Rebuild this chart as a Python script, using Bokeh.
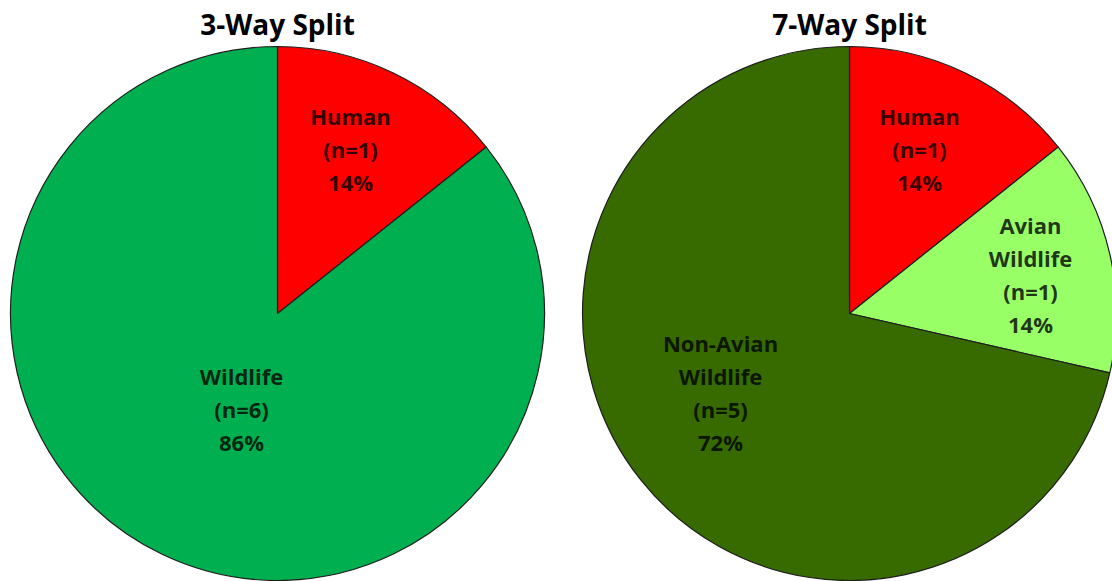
import math
from bokeh.plotting import figure
from bokeh.models import ColumnDataSource, Range1d
from bokeh.core.properties import value
from bokeh.embed import file_html
from bokeh.resources import INLINE

# ---- data ----
titles = ["3-Way Split", "7-Way Split"]
left_categories = ["Human", "Wildlife"]
left_counts = [1, 6]
left_pcts = ["14%", "86%"]
right_categories = ["Human", "Avian\nWildlife", "Non-Avian\nWildlife"]
right_counts = [1, 1, 5]
right_pcts = ["14%", "14%", "72%"]

left_colors = ["#FF0000", "#00B050"]
right_colors = ["#FF0000", "#99FF66", "#376B00"]

W, H = 1112, 581
FONT = "Open Sans"

p = figure(width=W, height=H, output_backend="svg", toolbar_location=None,
           x_range=Range1d(0, W), y_range=Range1d(0, H),
           min_border=0, match_aspect=False)
p.axis.visible = False
p.grid.visible = False
p.outline_line_color = None
p.background_fill_color = "white"
p.border_fill_color = "white"

def Y(py):
    return H - py

R = 267
pies = [
    dict(cx=277, cy=313, cats=left_categories, counts=left_counts, pcts=left_pcts,
         colors=left_colors, title=titles[0],
         label_pos=[(350, 148), (241, 408)]),
    dict(cx=849, cy=313, cats=right_categories, counts=right_counts, pcts=right_pcts,
         colors=right_colors, title=titles[1],
         label_pos=[(919, 148), (1030, 274), (720, 392)]),
]

LINE_H = 33
for pie in pies:
    total = sum(pie["counts"])
    starts, ends = [], []
    a = math.pi / 2
    for c in pie["counts"]:
        starts.append(a)
        a = a - 2 * math.pi * c / total
        ends.append(a)
    src = ColumnDataSource(dict(
        x=[pie["cx"]] * len(starts), y=[Y(pie["cy"])] * len(starts),
        start=starts, end=ends, color=pie["colors"]))
    p.wedge(x="x", y="y", radius=R, start_angle="start", end_angle="end",
            direction="clock", fill_color="color", line_color="#1e1e1e",
            line_width=1.2, source=src)

    tx, ty, tt = [], [], []
    for cat, cnt, pct, (lx, ly) in zip(pie["cats"], pie["counts"], pie["pcts"], pie["label_pos"]):
        lines = cat.split("\n") + [f"(n={cnt})", pct]
        n = len(lines)
        for i, ln in enumerate(lines):
            tx.append(lx)
            ty.append(Y(ly + (i - (n - 1) / 2) * LINE_H))
            tt.append(ln)
    p.text(x=tx, y=ty, text=tt, text_align="center", text_baseline="middle",
           text_font=value(FONT), text_font_style="bold", text_font_size="22px",
           text_color="#000000", text_alpha=0.8)

    p.text(x=[pie["cx"]], y=[Y(23)], text=[pie["title"]], text_align="center",
           text_baseline="middle", text_font=value(FONT), text_font_style="bold",
           text_font_size="28px", text_color="#000000")

open("out.html", "w").write(file_html(p, INLINE))
